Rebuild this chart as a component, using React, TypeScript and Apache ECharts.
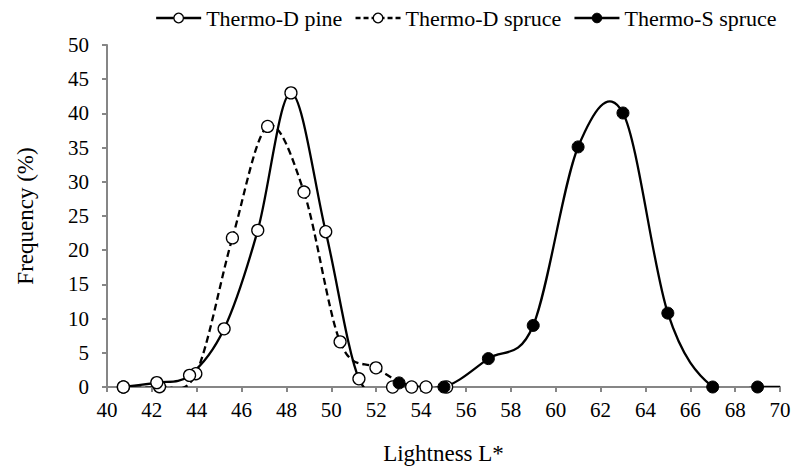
import React, { useEffect, useRef } from "react";
import * as echarts from "echarts";

const xTicks = { min: 40, max: 70, interval: 2 };
const yTicks = { min: 0, max: 50, interval: 5 };

const pineX = [40.73, 42.22, 43.68, 45.22, 46.72, 48.2, 49.75, 51.23, 52.73, 54.22];
const pineY = [0, 0.64, 1.7, 8.5, 22.9, 43.0, 22.7, 1.2, 0, 0];

const spruceDX = [40.73, 42.34, 43.96, 45.59, 47.16, 48.78, 50.39, 51.99, 53.58, 55.14];
const spruceDY = [0, 0.05, 1.95, 21.8, 38.1, 28.5, 6.6, 2.8, 0, 0];

const spruceSX = [53.02, 55.02, 57, 59, 61, 63, 65, 67, 69, 71];
const spruceSY = [0.6, 0, 4.15, 9.0, 35.1, 40.06, 10.8, 0, 0, 0];

const names = ["Thermo-D pine", "Thermo-D spruce", "Thermo-S spruce"];

const zip = (xs: number[], ys: number[]) => xs.map((x, i) => [x, ys[i]]);

// Excel-like smoothed curve: each item draws the Bezier segment to the next point
function curveSeries(name: string, pts: number[][], dash: number[] | null) {
  return {
    name,
    type: "custom",
    clip: true,
    silent: true,
    data: pts,
    z: 1,
    renderItem: (params: any, api: any) => {
      const i = params.dataIndex;
      if (i >= pts.length - 1) return null;
      const p0 = pts[Math.max(0, i - 1)];
      const p1 = pts[i];
      const p2 = pts[i + 1];
      const p3 = pts[Math.min(pts.length - 1, i + 2)];
      const c1 = [p1[0] + (p2[0] - p0[0]) / 6, p1[1] + (p2[1] - p0[1]) / 6];
      const c2 = [p2[0] - (p3[0] - p1[0]) / 6, p2[1] - (p3[1] - p1[1]) / 6];
      const a = api.coord(p1);
      const b = api.coord(c1);
      const c = api.coord(c2);
      const d = api.coord(p2);
      return {
        type: "bezierCurve",
        shape: { x1: a[0], y1: a[1], cpx1: b[0], cpy1: b[1], cpx2: c[0], cpy2: c[1], x2: d[0], y2: d[1] },
        style: { stroke: "#000", lineWidth: 2.3, fill: null, lineDash: dash || undefined },
      };
    },
  };
}

export default function App() {
  const ref = useRef<HTMLDivElement>(null);
  useEffect(() => {
    if (!ref.current) return;
    const chart = echarts.init(ref.current, undefined, { renderer: "svg" });
    const font = "Liberation Serif";
    const axisColor = "#868686";
    const pine = zip(pineX, pineY);
    const sprD = zip(spruceDX, spruceDY);
    const sprS = zip(spruceSX, spruceSY);
    chart.setOption({
      animation: false,
      textStyle: { fontFamily: font },
      legend: {
        top: 2,
        left: 150,
        itemWidth: 45,
        itemHeight: 12,
        itemGap: 12,
        textStyle: { fontFamily: font, fontSize: 22, color: "#000" },
        data: [
          { name: names[0], lineStyle: { color: "#000", width: 2.3, type: "solid", opacity: 1 }, itemStyle: { color: "#fff", borderColor: "#000", borderWidth: 1.3 } },
          { name: names[1], lineStyle: { color: "#000", width: 2.3, type: [5, 3], opacity: 1 }, itemStyle: { color: "#fff", borderColor: "#000", borderWidth: 1.3 } },
          { name: names[2], lineStyle: { color: "#000", width: 2.3, type: "solid", opacity: 1 }, itemStyle: { color: "#000", borderColor: "#000", borderWidth: 1 } },
        ],
      },
      grid: { left: 107, right: 14, top: 45, bottom: 87, containLabel: false },
      xAxis: {
        type: "value",
        min: xTicks.min,
        max: xTicks.max,
        interval: xTicks.interval,
        name: "Lightness L*",
        nameLocation: "middle",
        nameGap: 55,
        nameTextStyle: { fontFamily: font, fontSize: 23, color: "#000" },
        axisLine: { show: true, lineStyle: { color: axisColor, width: 2 } },
        axisTick: { show: true, length: 5, lineStyle: { color: axisColor, width: 2 } },
        axisLabel: { fontFamily: font, fontSize: 21, color: "#000", margin: 12 },
        splitLine: { show: false },
      },
      yAxis: {
        type: "value",
        min: yTicks.min,
        max: yTicks.max,
        interval: yTicks.interval,
        name: "Frequency (%)",
        nameLocation: "middle",
        nameGap: 70,
        nameTextStyle: { fontFamily: font, fontSize: 23, color: "#000" },
        axisLine: { show: true, lineStyle: { color: axisColor, width: 2 } },
        axisTick: { show: true, length: 5, lineStyle: { color: axisColor, width: 2 } },
        axisLabel: { fontFamily: font, fontSize: 21, color: "#000", margin: 18 },
        splitLine: { show: false },
      },
      series: [
        curveSeries("pine-curve", pine, null),
        curveSeries("spruceD-curve", sprD, [7, 4]),
        curveSeries("spruceS-curve", sprS, null),
        {
          name: names[0],
          type: "line",
          data: pine,
          symbol: "circle",
          symbolSize: 12,
          itemStyle: { color: "#fff", borderColor: "#000", borderWidth: 1.3 },
          lineStyle: { color: "#000", width: 2.3, opacity: 0 },
          z: 3,
        },
        {
          name: names[1],
          type: "line",
          data: sprD,
          symbol: "circle",
          symbolSize: 12,
          itemStyle: { color: "#fff", borderColor: "#000", borderWidth: 1.3 },
          lineStyle: { color: "#000", width: 2.3, type: [7, 4], opacity: 0 },
          z: 2,
        },
        {
          name: names[2],
          type: "line",
          data: sprS,
          symbol: "circle",
          symbolSize: 12,
          itemStyle: { color: "#000", borderColor: "#000", borderWidth: 1 },
          lineStyle: { color: "#000", width: 2.3, opacity: 0 },
          z: 4,
        },
      ],
    });
    return () => chart.dispose();
  }, []);
  return <div ref={ref} style={{ width: 794, height: 474, position: "absolute", left: 0, top: 0 }} />;
}
